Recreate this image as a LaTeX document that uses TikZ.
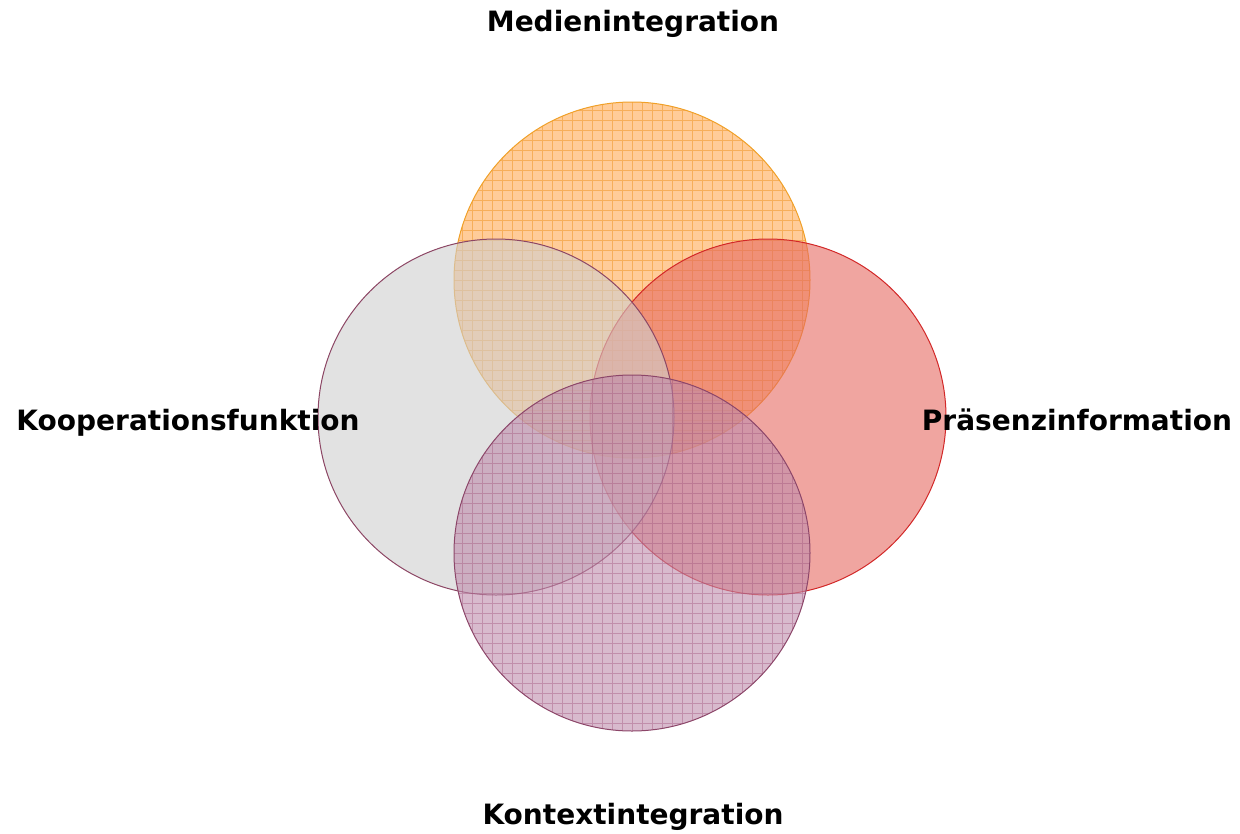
\documentclass[tikz,border=0pt]{standalone}
\usepackage{fontspec}
\setmainfont{DejaVu Sans}
\begin{document}
\begin{tikzpicture}[x=0.75pt,y=-0.75pt]
\definecolor{orbase}{RGB}{255,170,85}
\definecolor{orgrid}{RGB}{240,150,40}
\definecolor{orline}{RGB}{240,160,40}
\definecolor{rdbase}{RGB}{230,105,97}
\definecolor{rdline}{RGB}{210,40,40}
\definecolor{grbase}{RGB}{207,207,207}
\definecolor{grline}{RGB}{140,70,100}
\definecolor{pubase}{RGB}{190,140,172}
\definecolor{pugrid}{RGB}{160,80,120}
\definecolor{puline}{RGB}{140,70,105}
\tikzset{
  venn/.style={circle, minimum size=267pt, inner sep=0pt, outer sep=0pt, line width=0.75pt, fill opacity=0.6},
  gridded/.style 2 args={path picture={\draw[#1, line width=0.6pt, draw opacity=#2, step=7.5pt] (path picture bounding box.south west) grid (path picture bounding box.north east);}},
  lbl/.style={font=\bfseries\fontsize{21}{25}\selectfont, text=black, anchor=base, inner sep=0pt}
}
\useasboundingbox (0,0) rectangle (1240,833);
\node[venn, fill=orbase, draw=orline, gridded={orgrid}{0.55}] (top) at (632,280) {};
\node[venn, fill=rdbase, draw=rdline] (right) at (768,417) {};
\node[venn, fill=grbase, draw=grline] (left) at (496,417) {};
\node[venn, fill=pubase, draw=puline, gridded={pugrid}{0.4}] (bottom) at (632,553) {};
\node[lbl] (ltop) at (633,31) {Medienintegration};
\node[lbl] (lleft) at (188,430) {Kooperationsfunktion};
\node[lbl] (lright) at (1077,430) {Präsenzinformation};
\node[lbl] (lbottom) at (633,824) {Kontextintegration};
\end{tikzpicture}
\end{document}
